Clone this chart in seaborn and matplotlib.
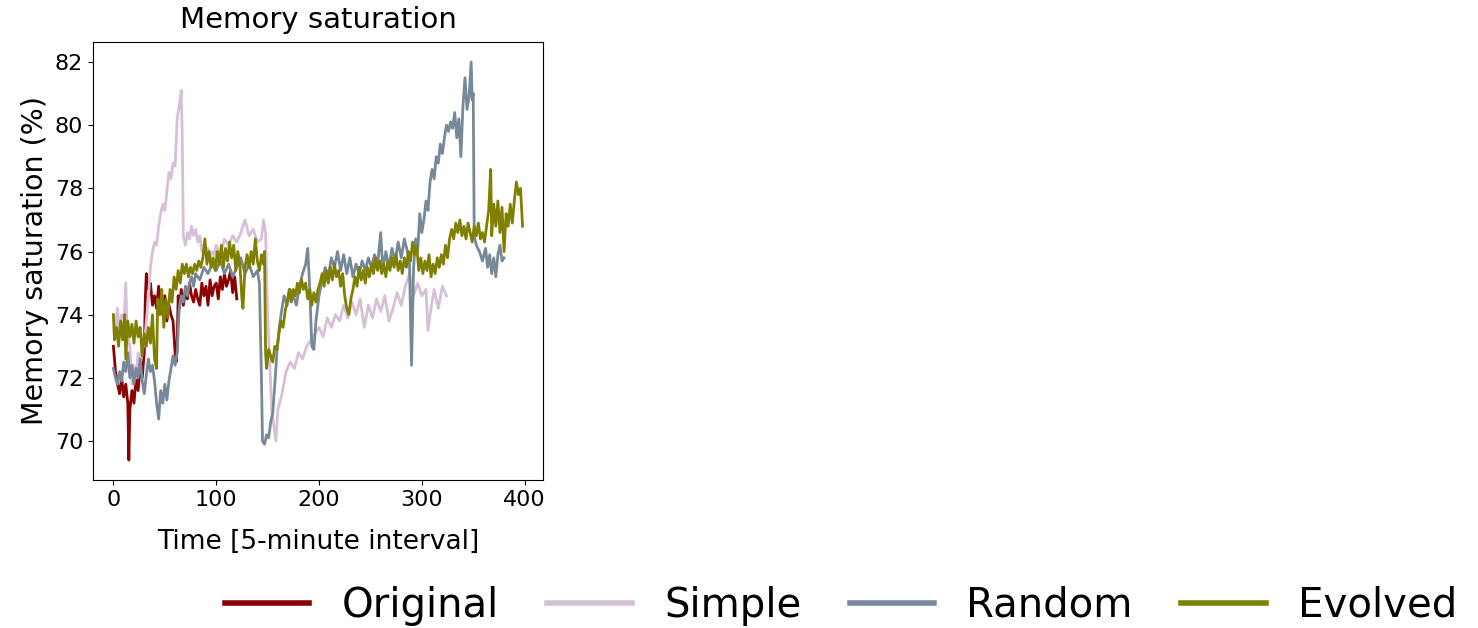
import pandas as pd
import matplotlib
matplotlib.use('Agg')
import matplotlib.pyplot as plt
import seaborn as sns

# valori (timp, saturatie memorie %)
original_x = [0, 2, 4, 6, 8, 10, 12, 14, 15, 16, 18, 20, 22, 24, 26, 28, 30, 31, 32, 34, 36, 38, 40, 42, 44, 46,
              48, 50, 52, 54, 56, 58, 60, 61, 62, 63, 64, 66, 68, 70, 72, 74, 76, 78, 80, 82, 84, 86, 88, 90, 92,
              94, 96, 98, 100, 102, 104, 106, 108, 110, 112, 114, 116, 118, 120]
original_y = [73.0, 72.2, 71.8, 71.5, 72.0, 71.4, 71.8, 71.2, 69.4, 71.0, 71.6, 71.2, 72.0, 71.6, 72.3, 72.0, 72.8,
              74.5, 75.3, 74.8, 75.0, 74.3, 74.6, 74.2, 74.9, 74.4, 74.0, 74.6, 73.8, 74.3, 74.0, 73.8, 72.8, 72.5,
              73.0, 74.6, 74.2, 74.8, 74.3, 74.7, 74.5, 75.0, 74.6, 74.4, 74.8, 74.5, 74.3, 75.0, 74.6, 74.9, 74.3,
              75.1, 74.6, 74.9, 75.0, 74.5, 75.2, 74.8, 75.3, 74.9, 75.1, 75.4, 74.7, 75.2, 74.5]

simple_x = [0, 2, 4, 6, 8, 10, 12, 13, 14, 16, 18, 20, 22, 24, 26, 28, 30, 32, 34, 36, 38, 40, 42, 44, 46, 48, 50,
            52, 54, 56, 58, 60, 62, 64, 66, 67, 68, 70, 72, 74, 76, 78, 80, 82, 84, 86, 88, 90, 92, 94, 96, 98, 100,
            104, 108, 112, 116, 120, 124, 128, 132, 136, 140, 144, 146, 148, 150, 152, 154, 156, 158, 160, 164,
            168, 172, 176, 180, 184, 188, 192, 196, 200, 204, 208, 212, 216, 220, 224, 228, 232, 236, 240, 244,
            248, 252, 256, 260, 264, 268, 272, 276, 280, 284, 288, 292, 296, 300, 304, 306, 308, 312, 316, 320, 324]
simple_y = [74.0, 73.5, 74.2, 73.4, 74.0, 73.6, 75.0, 73.8, 73.3, 73.0, 71.8, 72.4, 72.0, 72.8, 72.3, 73.2, 73.0,
            73.8, 74.5, 75.5, 76.0, 76.3, 76.2, 76.8, 77.2, 77.5, 77.3, 77.9, 78.5, 78.3, 78.8, 78.7, 80.2, 80.6,
            81.1, 79.5, 76.5, 76.2, 76.6, 76.4, 76.8, 76.5, 76.7, 76.3, 76.5, 76.0, 76.2, 75.9, 76.1, 75.8, 76.0,
            75.9, 76.2, 75.9, 76.4, 76.2, 76.5, 76.3, 76.6, 77.0, 76.5, 76.7, 76.3, 76.4, 77.0, 76.6, 74.0, 72.5,
            71.0, 70.5, 70.0, 71.0, 71.5, 72.2, 72.5, 72.3, 72.8, 72.6, 73.0, 73.2, 73.4, 73.6, 73.3, 73.9, 73.6,
            74.0, 73.8, 74.3, 73.9, 74.4, 74.0, 74.5, 73.6, 74.3, 73.9, 74.5, 74.1, 74.6, 73.8, 74.2, 74.7, 74.3,
            74.9, 75.3, 74.6, 75.0, 74.6, 74.8, 73.5, 74.0, 74.8, 74.2, 74.9, 74.6]

random_x = [0, 2, 4, 6, 8, 10, 12, 14, 16, 18, 20, 22, 24, 26, 28, 30, 32, 34, 36, 38, 40, 42, 44, 46, 48, 50, 52,
            54, 56, 58, 60, 62, 64, 66, 68, 70, 72, 74, 76, 78, 80, 84, 88, 92, 96, 100, 104, 108, 112, 116, 120,
            124, 128, 132, 136, 140, 142, 144, 145, 147, 149, 151, 153, 155, 157, 159, 161, 163, 166, 169, 172,
            175, 178, 181, 184, 187, 189, 191, 193, 195, 197, 200, 203, 206, 209, 212, 215, 218, 221, 224, 227,
            230, 233, 236, 239, 242, 245, 248, 251, 254, 257, 260, 262, 265, 268, 271, 274, 277, 280, 283, 286,
            288, 290, 292, 294, 296, 298, 300, 302, 304, 306, 308, 310, 312, 314, 316, 318, 320, 322, 324, 326,
            328, 330, 332, 334, 336, 338, 340, 342, 344, 346, 348, 349, 350, 351, 353, 356, 359, 362, 364, 366,
            368, 370, 372, 374, 376, 378, 380]
random_y = [72.3, 72.0, 71.8, 72.2, 71.9, 72.5, 72.2, 72.8, 72.0, 72.4, 71.8, 72.3, 72.0, 72.6, 71.9, 71.5, 72.1,
            72.6, 72.2, 72.4, 71.9, 71.2, 70.7, 71.6, 71.2, 71.8, 71.3, 71.9, 72.3, 72.7, 72.4, 72.8, 74.2, 74.6,
            74.4, 74.9, 74.6, 75.0, 75.2, 74.9, 75.3, 75.1, 75.5, 75.3, 75.6, 75.4, 75.7, 75.3, 75.6, 75.2, 75.5,
            75.8, 75.3, 75.6, 75.2, 75.4, 75.0, 72.0, 70.0, 69.9, 70.2, 70.1, 70.6, 70.9, 71.8, 72.8, 73.5, 74.0,
            74.6, 74.3, 74.8, 74.6, 74.3, 74.9, 75.3, 75.6, 76.1, 74.8, 73.0, 72.9, 73.8, 74.6, 75.1, 75.5, 75.2,
            75.8, 75.5, 76.0, 75.4, 75.9, 75.3, 75.8, 75.2, 75.6, 75.3, 75.7, 75.4, 75.8, 75.5, 75.9, 75.6, 76.6,
            75.4, 76.0, 75.5, 76.1, 75.7, 76.3, 75.8, 76.4, 76.0, 75.6, 72.4, 75.5, 76.4, 76.0, 77.2, 76.6, 77.0,
            77.6, 77.3, 78.2, 78.6, 78.3, 79.0, 78.8, 79.4, 79.1, 79.6, 80.0, 79.8, 80.1, 79.9, 80.4, 79.6, 80.2,
            79.0, 80.6, 81.5, 80.5, 80.9, 82.0, 80.8, 81.0, 76.5, 76.2, 76.0, 75.7, 76.1, 75.5, 75.9, 75.3, 75.8,
            75.2, 75.9, 76.2, 75.7, 75.8]

evolved_x = [0, 1, 3, 5, 7, 9, 11, 12, 14, 16, 18, 20, 22, 24, 26, 28, 30, 32, 34, 36, 38, 40, 42, 43, 45, 47, 49,
             51, 53, 55, 57, 59, 61, 63, 65, 67, 69, 71, 73, 75, 77, 79, 81, 83, 85, 87, 89, 91, 93, 95, 97, 99,
             101, 103, 105, 107, 109, 111, 113, 115, 117, 119, 121, 123, 125, 126, 128, 130, 132, 134, 136, 138,
             140, 142, 144, 146, 147, 148, 149, 151, 153, 155, 157, 159, 161, 163, 165, 167, 169, 171, 173, 175,
             177, 179, 181, 183, 185, 187, 189, 191, 193, 195, 197, 199, 201, 203, 205, 207, 209, 211, 213, 215,
             217, 219, 221, 223, 225, 227, 229, 231, 233, 235, 237, 239, 241, 243, 245, 247, 249, 251, 253, 255,
             257, 259, 261, 263, 265, 267, 269, 271, 273, 275, 277, 279, 281, 283, 285, 287, 289, 291, 293, 295,
             297, 299, 301, 303, 305, 307, 309, 311, 313, 315, 317, 319, 321, 323, 325, 327, 329, 331, 333, 335,
             337, 339, 341, 343, 345, 347, 349, 351, 353, 355, 357, 359, 361, 363, 365, 367, 368, 370, 372, 374,
             376, 378, 380, 382, 384, 386, 388, 390, 392, 394, 396, 397, 398]
evolved_y = [74.0, 73.2, 73.6, 73.0, 73.8, 73.2, 74.0, 72.6, 73.8, 73.3, 73.7, 73.1, 73.8, 73.3, 73.6, 72.7, 73.4,
             73.0, 73.6, 73.1, 74.0, 72.6, 72.3, 74.5, 74.0, 74.8, 73.6, 74.5, 73.9, 74.8, 74.4, 75.2, 74.8, 75.4,
             75.0, 75.6, 75.3, 75.6, 75.2, 75.5, 75.3, 75.6, 75.4, 75.7, 75.5, 75.8, 76.4, 75.6, 76.0, 75.5, 75.8,
             75.4, 76.0, 75.6, 76.2, 75.5, 76.1, 75.7, 76.3, 75.8, 76.2, 75.4, 76.0, 75.6, 74.5, 74.2, 75.5, 75.9,
             75.5, 76.0, 75.6, 76.4, 75.7, 75.4, 75.9, 75.6, 76.0, 72.8, 72.3, 72.9, 72.7, 72.5, 73.0, 72.9, 73.4,
             73.8, 73.6, 74.1, 74.4, 74.8, 74.4, 74.8, 74.6, 75.0, 74.7, 75.1, 74.8, 75.0, 74.5, 74.8, 74.3, 74.7,
             74.4, 74.8, 75.0, 75.3, 74.9, 75.4, 75.0, 75.5, 75.1, 75.6, 75.2, 75.4, 74.9, 75.3, 74.6, 74.2, 74.0,
             74.5, 74.8, 75.2, 74.9, 75.5, 75.1, 75.4, 75.0, 75.5, 75.2, 75.6, 75.3, 75.8, 75.4, 75.7, 75.3, 75.6,
             75.2, 75.7, 75.4, 75.8, 75.5, 75.9, 75.4, 75.7, 75.3, 75.8, 75.5, 76.0, 75.7, 76.3, 75.9, 76.2, 75.4,
             75.8, 75.3, 75.7, 75.4, 75.9, 75.2, 75.6, 75.3, 75.8, 75.5, 75.9, 75.6, 76.2, 75.8, 76.4, 76.7, 76.4,
             76.9, 76.6, 77.0, 76.5, 76.8, 76.4, 76.9, 76.6, 76.3, 76.8, 76.5, 76.9, 76.4, 76.6, 76.3, 76.8, 77.3,
             78.6, 76.5, 77.5, 76.8, 77.6, 76.6, 77.4, 76.0, 77.2, 76.8, 77.5, 76.9, 77.6, 78.2, 77.8, 78.0, 77.4,
             76.8]

metode = ['Original', 'Simple', 'Random', 'Evolved']
culori = ['#8B0000', '#D8BFD8', '#778899', '#808000']

serii = {'Original': (original_x, original_y), 'Simple': (simple_x, simple_y),
         'Random': (random_x, random_y), 'Evolved': (evolved_x, evolved_y)}
df = pd.concat([pd.DataFrame({'t': sx, 'val': sy, 'metoda': m}) for m, (sx, sy) in serii.items()],
               ignore_index=True)

fig = plt.figure(figsize=(14.78, 6.28), dpi=100)
ax = fig.add_axes([0.0629, 0.2357, 0.3045, 0.6974])
sns.lineplot(data=df, x='t', y='val', hue='metoda', hue_order=metode, palette=culori,
             estimator=None, sort=False, linewidth=2, ax=ax, legend=False)

ax.set_title('Memory saturation', fontsize=21, pad=10)
ax.set_xlabel('Time [5-minute interval]', fontsize=19, labelpad=14)
ax.set_ylabel('Memory saturation (%)', fontsize=20.5)
ax.set_xticks([0, 100, 200, 300, 400])
ax.set_yticks([70, 72, 74, 76, 78, 80, 82])
ax.tick_params(labelsize=16)

handles = [plt.Line2D([], [], color=c, linewidth=4) for c in culori]
fig.legend(handles, metode, loc='lower center', bbox_to_anchor=(0.569, -0.054), ncol=4,
           frameon=False, fontsize=29, handlelength=2.1, handletextpad=0.8, columnspacing=1.2)

fig.savefig('out.png', dpi=100)
